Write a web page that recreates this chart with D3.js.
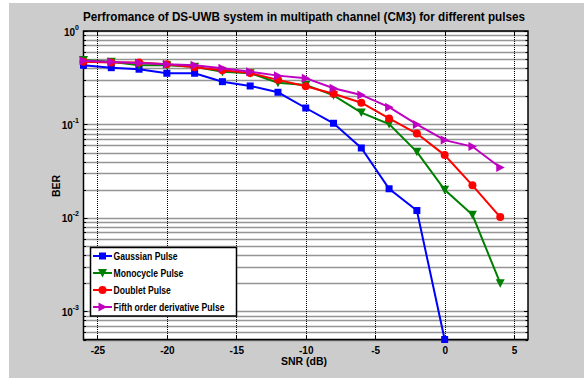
<!DOCTYPE html>
<html>
<head>
<meta charset="utf-8">
<script src="https://cdn.jsdelivr.net/npm/d3@7"></script>
<style>
  body { margin: 0; background: #fff; }
  svg text { font-family: "Liberation Sans", Arial, sans-serif; font-weight: bold; fill: #000; }
</style>
</head>
<body>
<svg id="chart" width="584" height="378"></svg>
<script>
/* values */
var snr = [-26, -24, -22, -20, -18, -16, -14, -12, -10, -8, -6, -4, -2, 0, 2, 4];
var gaussian = [0.43, 0.405, 0.39, 0.353, 0.353, 0.287, 0.258, 0.221, 0.15, 0.103, 0.056, 0.0205, 0.012, 0.0005];
var monocycle = [0.49, 0.47, 0.43, 0.43, 0.415, 0.367, 0.353, 0.28, 0.265, 0.205, 0.134, 0.101, 0.051, 0.02, 0.0108, 0.002];
var doublet = [0.47, 0.46, 0.46, 0.44, 0.41, 0.38, 0.355, 0.30, 0.256, 0.213, 0.171, 0.116, 0.08, 0.047, 0.0223, 0.0102];
var fifth = [0.48, 0.466, 0.455, 0.44, 0.43, 0.40, 0.367, 0.333, 0.313, 0.244, 0.207, 0.153, 0.10, 0.068, 0.058, 0.0346];

var x_ticks = [-25, -20, -15, -10, -5, 0, 5];
var y_ticks = [0, -1, -2, -3];   /* exponents of 10 */

var series = [
    {name: "Gaussian Pulse", values: gaussian, color: "#0000ff", marker: "square"},
    {name: "Monocycle Pulse", values: monocycle, color: "#008000", marker: "down"},
    {name: "Doublet Pulse", values: doublet, color: "#ff0000", marker: "circle"},
    {name: "Fifth order derivative Pulse", values: fifth, color: "#c000c0", marker: "right"}
];

/* plot box */
var plot_left = 83.5, plot_right = 528, plot_top = 31, plot_bottom = 339.5;

var svg = d3.select("#chart");

/* figure background */
svg.append("rect").attr("x", 9).attr("y", 3).attr("width", 575).attr("height", 375)
    .attr("fill", "#cccccc");
svg.append("rect").attr("x", plot_left).attr("y", plot_top)
    .attr("width", plot_right - plot_left).attr("height", plot_bottom - plot_top).attr("fill", "#fff");

var x = d3.scaleLinear().domain([-26, 6]).range([plot_left, plot_right]);
var y = d3.scaleLog().domain([5e-4, 1]).range([plot_bottom, plot_top]);

/* horizontal grid at every log tick */
var minor = [];
for (var e = -4; e <= 0; e++) {
    for (var m = 1; m <= 9; m++) {
        var v = m * Math.pow(10, e);
        if (v >= 5e-4 && v <= 1) minor.push(v);
    }
}
svg.append("g").selectAll("line").data(minor).enter().append("line")
    .attr("x1", plot_left).attr("x2", plot_right)
    .attr("y1", function(d) { return Math.round(y(d)) + 0.5; })
    .attr("y2", function(d) { return Math.round(y(d)) + 0.5; })
    .attr("stroke", "#2a2a2a").attr("stroke-width", 1.5).attr("stroke-dasharray", "1,1");

/* vertical grid */
svg.append("g").selectAll("line").data(x_ticks).enter().append("line")
    .attr("x1", function(d) { return Math.round(x(d)) + 0.5; })
    .attr("x2", function(d) { return Math.round(x(d)) + 0.5; })
    .attr("y1", plot_top).attr("y2", plot_bottom)
    .attr("stroke", "#000").attr("stroke-width", 1).attr("stroke-dasharray", "1,1");

/* ticks inside the box */
var tick_g = svg.append("g").attr("stroke", "#000").attr("stroke-width", 1);
x_ticks.forEach(function(t) {
    var xx = Math.round(x(t)) + 0.5;
    tick_g.append("line").attr("x1", xx).attr("x2", xx).attr("y1", plot_bottom).attr("y2", plot_bottom - 4);
    tick_g.append("line").attr("x1", xx).attr("x2", xx).attr("y1", plot_top).attr("y2", plot_top + 4);
});
minor.forEach(function(v) {
    var len = (Math.abs(Math.log10(v) % 1) < 1e-9) ? 4 : 2.5;
    var yy = Math.round(y(v)) + 0.5;
    tick_g.append("line").attr("x1", plot_left).attr("x2", plot_left + len).attr("y1", yy).attr("y2", yy);
    tick_g.append("line").attr("x1", plot_right).attr("x2", plot_right - len).attr("y1", yy).attr("y2", yy);
});

/* x axis labels */
var x_axis = d3.axisBottom(x).tickValues(x_ticks).tickSize(0).tickPadding(7)
    .tickFormat(function(d) { return String(d); });
var xg = svg.append("g").attr("transform", "translate(0," + plot_bottom + ")").call(x_axis);
xg.select(".domain").remove();
xg.attr("font-family", null).attr("font-size", null);
xg.selectAll("text").style("font-size", "10px");

/* y axis labels: 10 with superscript exponent */
var yl = svg.append("g");
y_ticks.forEach(function(ex) {
    var yy = y(Math.pow(10, ex));
    var t = yl.append("text").attr("x", 79).attr("y", yy + 4.5)
        .attr("text-anchor", "end").style("font-size", "10px");
    t.append("tspan").text("10");
    t.append("tspan").attr("dy", -6).style("font-size", "7px").text(ex);
});

/* frame */
svg.append("rect").attr("x", plot_left).attr("y", plot_top)
    .attr("width", plot_right - plot_left).attr("height", plot_bottom - plot_top)
    .attr("fill", "none").attr("stroke", "#000").attr("stroke-width", 1.5);

/* series lines */
var line = d3.line()
    .x(function(d, i) { return x(snr[i]); })
    .y(function(d) { return y(d); });

function marker(sel, kind, color) {
    if (kind === "square") {
        sel.append("rect").attr("x", -3.5).attr("y", -3.5).attr("width", 7).attr("height", 7).attr("fill", color);
    } else if (kind === "circle") {
        sel.append("circle").attr("r", 4).attr("fill", color);
    } else if (kind === "down") {
        sel.append("path").attr("d", "M-4.5,-4L4.5,-4L0,4.5Z").attr("fill", color);
    } else {
        sel.append("path").attr("d", "M-4,-4.5L-4,4.5L4.5,0Z").attr("fill", color);
    }
}

series.forEach(function(s) {
    svg.append("path").datum(s.values).attr("d", line)
        .attr("fill", "none").attr("stroke", s.color).attr("stroke-width", 2);
    svg.append("g").selectAll("g").data(s.values).enter().append("g")
        .attr("transform", function(d, i) { return "translate(" + x(snr[i]) + "," + y(d) + ")"; })
        .each(function() { marker(d3.select(this), s.marker, s.color); });
});

/* legend */
var lg = svg.append("g");
lg.append("rect").attr("x", 90.5).attr("y", 247.5).attr("width", 146).attr("height", 68.5)
    .attr("fill", "#fff").attr("stroke", "#000").attr("stroke-width", 1.5);
series.forEach(function(s, i) {
    var ly = 256 + i * 17;
    lg.append("line").attr("x1", 93).attr("x2", 112).attr("y1", ly).attr("y2", ly)
        .attr("stroke", s.color).attr("stroke-width", 2);
    var mk = lg.append("g").attr("transform", "translate(102.5," + ly + ")");
    marker(mk, s.marker, s.color);
    var t = lg.append("text").attr("x", 113.5).attr("y", ly + 3.5)
        .style("font-size", "10.5px").text(s.name);
    t.attr("textLength", t.node().getComputedTextLength() * 0.82).attr("lengthAdjust", "spacingAndGlyphs");
});

/* title and axis titles */
svg.append("text").attr("x", 304).attr("y", 21).attr("text-anchor", "middle")
    .style("font-size", "13px")
    .attr("textLength", 442).attr("lengthAdjust", "spacingAndGlyphs")
    .text("Perfromance of DS-UWB system in multipath channel (CM3) for different pulses");

svg.append("text").attr("x", 304).attr("y", 365).attr("text-anchor", "middle")
    .style("font-size", "10.5px").text("SNR (dB)");

svg.append("text").attr("transform", "translate(60,186) rotate(-90)").attr("text-anchor", "middle")
    .style("font-size", "10.5px").text("BER");
</script>
</body>
</html>
